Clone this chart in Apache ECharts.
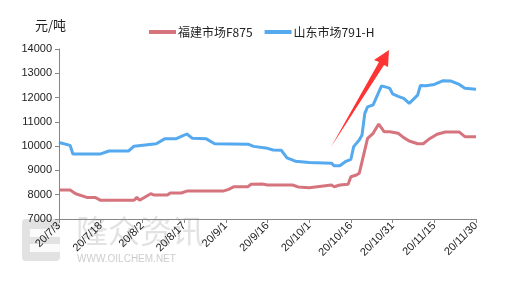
<!DOCTYPE html>
<html>
<head>
<meta charset="utf-8">
<script src="https://cdn.jsdelivr.net/npm/echarts@6/dist/echarts.min.js"></script>
<style>html,body{margin:0;padding:0;background:#fff;}#c{width:505px;height:281px;}</style>
</head>
<body>
<div id="c"></div>
<script>
// Day offsets from 2020-07-03
var startDate = [2020, 7, 3];
var seriesNames = ['福建市场F875', '山东市场791-H'];
var fujianDays = [0,4,6,10,13,15,27,28,29,33,34,39,40,44,46,59,61,63,68,69,73,75,84,86,90,98,99,101,104,105,107,108,111,113,115,117,119,122,124,126,129,131,133,136,139,144,146,150];
var fujianValues = [8190,8190,8040,7890,7890,7770,7770,7890,7770,8040,7990,7990,8070,8070,8150,8150,8220,8330,8330,8430,8440,8400,8400,8320,8290,8400,8330,8400,8430,8740,8810,8880,10320,10530,10910,10590,10590,10530,10350,10210,10100,10100,10280,10490,10580,10580,10390,10390];
var shandongDays = [0,4,5,15,18,25,27,31,35,38,42,44,46,48,53,56,68,70,75,77,80,82,85,90,98,99,101,103,105,106,108,109,110,111,113,116,118,119,120,122,124,126,129,130,132,135,138,141,144,146,150];
var shandongValues = [10150,10030,9680,9680,9800,9800,10000,10050,10100,10300,10300,10400,10500,10320,10300,10100,10080,9990,9910,9840,9830,9520,9380,9330,9300,9190,9190,9360,9460,9980,10250,10460,11350,11620,11700,12480,12420,12380,12150,12050,11970,11760,12100,12500,12490,12540,12690,12680,12540,12380,12340];
var yTicks = {min: 7000, max: 14000, interval: 1000};
var xTicks = {min: 0, max: 150, interval: 15};

function zip(a, b) { return a.map(function (d, i) { return [d, b[i]]; }); }
function dayLabel(d) {
  var dt = new Date(startDate[0], startDate[1] - 1, startDate[2] + d);
  return String(dt.getFullYear()).slice(2) + '/' + (dt.getMonth() + 1) + '/' + dt.getDate();
}

var chart = echarts.init(document.getElementById('c'));
var axisColor = '#868686';
chart.setOption({
  animation: false,
  textStyle: {fontFamily: 'Liberation Sans, Noto Sans CJK SC'},
  legend: {
    left: 144, top: 21,
    itemWidth: 27, itemHeight: 4, itemGap: 12,
    icon: 'rect',
    textStyle: {fontSize: 12, color: '#222', fontFamily: 'Noto Sans CJK SC', padding: [0, 0, 0, -3]},
    data: seriesNames
  },
  grid: {left: 59, right: 29, top: 49, bottom: 62},
  xAxis: {
    type: 'value', min: xTicks.min, max: xTicks.max, interval: xTicks.interval, z: 10,
    axisLine: {lineStyle: {color: axisColor}},
    axisTick: {show: true, length: 4, lineStyle: {color: axisColor}},
    splitLine: {show: false},
    axisLabel: {rotate: 45, fontSize: 11, color: '#222', margin: 5, formatter: dayLabel}
  },
  yAxis: {
    type: 'value', min: yTicks.min, max: yTicks.max, interval: yTicks.interval, z: 10,
    axisLine: {show: true, lineStyle: {color: axisColor}},
    axisTick: {show: true, length: 4, lineStyle: {color: axisColor}},
    splitLine: {show: false},
    axisLabel: {fontSize: 11, color: '#222', margin: 7, formatter: function (v) { return String(v); }}
  },
  series: [
    {name: seriesNames[0], type: 'line', symbol: 'none', data: zip(fujianDays, fujianValues),
     lineStyle: {width: 3, color: '#D6747E'}, itemStyle: {color: '#D6747E'}, z: 3},
    {name: seriesNames[1], type: 'line', symbol: 'none', data: zip(shandongDays, shandongValues),
     lineStyle: {width: 3, color: '#55A9EE'}, itemStyle: {color: '#55A9EE'}, z: 3}
  ],
  graphic: [
    {type: 'text', left: 35, top: 19, style: {text: '元/吨', fontSize: 13, fill: '#222', fontFamily: 'Noto Sans CJK SC'}},
    {type: 'group', z: 0, silent: true, children: [
      {type: 'rect', shape: {x: 22, y: 219, width: 38, height: 42, r: 4}, style: {fill: 'rgba(190,190,190,0.45)'}},
      {type: 'rect', shape: {x: 30, y: 229, width: 30, height: 8}, style: {fill: 'rgba(255,255,255,0.85)'}},
      {type: 'rect', shape: {x: 30, y: 244, width: 30, height: 8}, style: {fill: 'rgba(255,255,255,0.85)'}},
      {type: 'text', x: 76, y: 215, style: {text: '隆众资讯', fontSize: 32, fill: 'rgba(190,190,190,0.45)', fontFamily: 'Noto Sans CJK SC'}},
      {type: 'text', x: 77, y: 254, style: {text: 'WWW.OILCHEM.NET', fontSize: 10, fill: 'rgba(170,170,170,0.6)', fontFamily: 'Liberation Sans'}}
    ]},
    {type: 'polygon', shape: {points: [[331,147],[379,62],[374,60],[389,50],[388,67],[384,65]]}, style: {fill: '#FF3333'}, z: 10}
  ]
});
</script>
</body>
</html>
